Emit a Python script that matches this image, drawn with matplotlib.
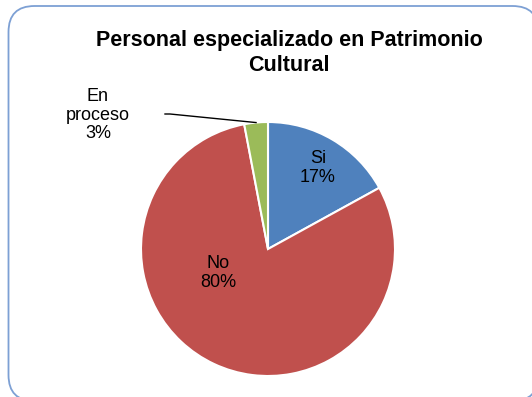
import numpy as np
import matplotlib.pyplot as plt
from matplotlib.patches import FancyBboxPatch

plt.rcParams['font.family'] = ['Liberation Sans', 'DejaVu Sans']

# Datos de la encuesta
categorias = ['Si', 'No', 'En\nproceso']
porcentajes = [17, 80, 3]
colores = ['#4F81BD', '#C0504D', '#9BBB59']
titulo = 'Personal especializado en Patrimonio\nCultural'

W, H = 532, 397
fig = plt.figure(figsize=(W / 100, H / 100), dpi=100)
ax = fig.add_axes([0, 0, 1, 1])

# marco redondeado del grafico
marco = FancyBboxPatch((8.5, -4), 530, 395, boxstyle='round,pad=0,rounding_size=26',
                       fc='white', ec='#7DA0D4', lw=1.3, zorder=0)
ax.add_patch(marco)

cx, cy, r = 268, H - 249, 127
wedges, _ = ax.pie(porcentajes, colors=colores, startangle=90, counterclock=False,
                   center=(cx, cy), radius=r, frame=True,
                   wedgeprops=dict(edgecolor='white', linewidth=1.5))
ax.set_xlim(0, W)
ax.set_ylim(0, H)
ax.axis('off')

fs = 13
ax.text(318, H - 168, f'{categorias[0]}\n{porcentajes[0]}%', ha='center', va='center',
        fontsize=fs, linespacing=1.2)
ax.text(218, H - 273, f'{categorias[1]}\n{porcentajes[1]}%', ha='center', va='center',
        fontsize=fs, linespacing=1.2)
ax.text(98, H - 115, f'{categorias[2]}\n{porcentajes[2]}%', ha='center', va='center',
        fontsize=fs, linespacing=1.15)

# linea guia de "En proceso"
ang = np.deg2rad(90 + porcentajes[2] / 100 * 360 / 2)
ax.plot([165, 170, cx + r * np.cos(ang)], [H - 114, H - 114, cy + r * np.sin(ang)],
        color='black', lw=1)

ax.text(289, H - 53, titulo, ha='center', va='center', fontsize=15.5,
        fontweight='bold', linespacing=1.2)

fig.savefig('out.png', dpi=100)
